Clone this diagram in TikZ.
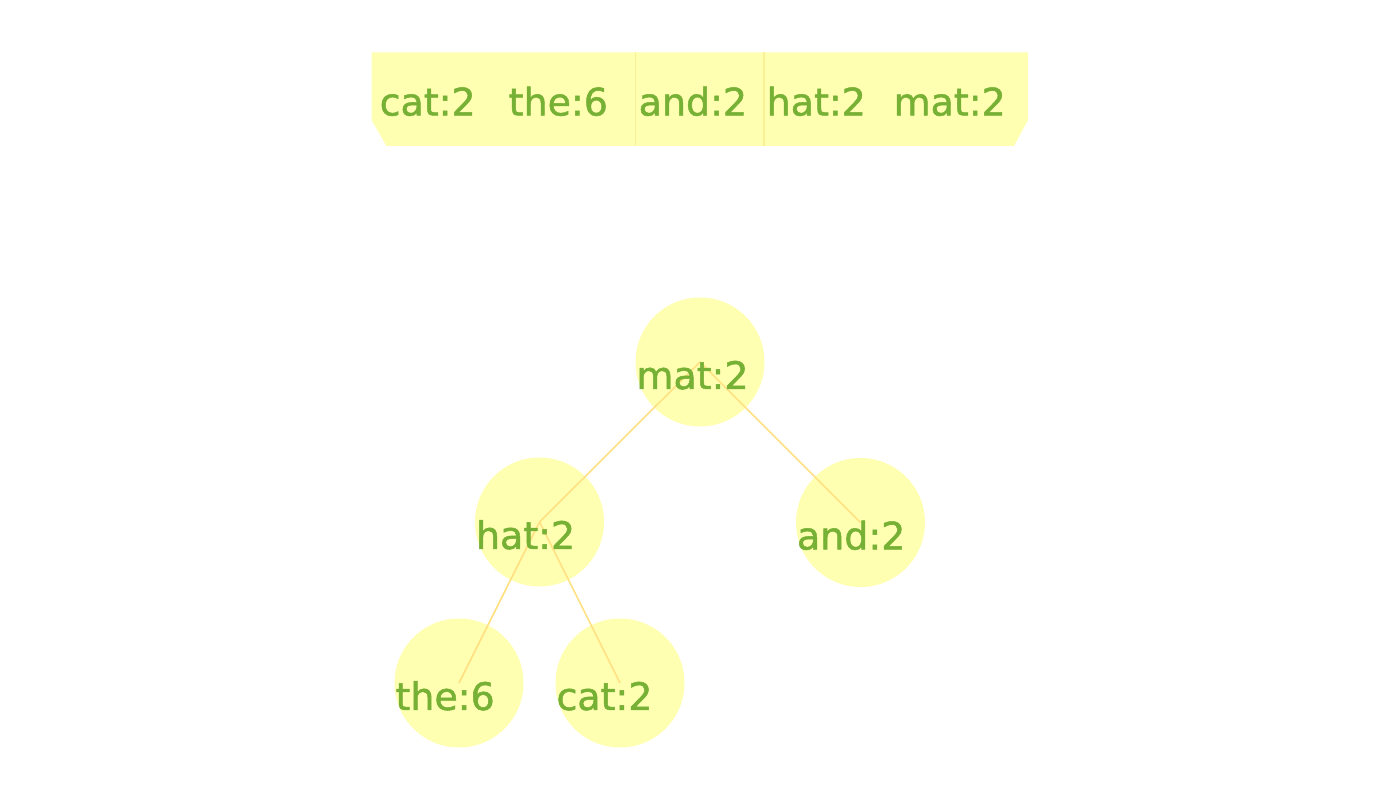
\documentclass[tikz,border=0pt]{standalone}
\usepackage{fontspec}
\setmainfont{DejaVu Sans}
\newfontfamily\wordfont{DejaVu Sans}[FakeBold=1.3]
\usepackage{tikz}
\usetikzlibrary{positioning}
\usepackage{xcolor}
\definecolor{wordgreen}{RGB}{118,176,52}
\definecolor{padyellow}{RGB}{255,255,178}
\definecolor{linkyellow}{RGB}{255,224,130}
\definecolor{cutyellow}{RGB}{250,240,150}

\begin{document}
\begin{tikzpicture}[
    bubble/.style={circle, fill=padyellow, minimum size=1.29cm, inner sep=0pt},
    word/.style={text=wordgreen, anchor=base west, inner sep=0pt,
                 font=\wordfont\fontsize{10.8}{13}\selectfont},
    link/.style={linkyellow, line width=0.45pt}
]
    \useasboundingbox (0,0) rectangle (14,8);

    % Frequency list (top bar)
    \fill[padyellow] (3.715,7.475) -- (10.28,7.475) -- (10.28,6.80)
        -- (10.14,6.54) -- (3.865,6.54) -- (3.715,6.80) -- cycle;
    \draw[cutyellow, line width=0.3pt] (6.355,7.475) -- (6.355,6.54);
    \draw[cutyellow, line width=0.3pt] (7.64,7.475) -- (7.64,6.54);

    \node[word] (lcat) at (3.79,6.845) {cat:2};
    \node[word] (lthe) at (5.08,6.845) {the:6};
    \node[word] (land) at (6.38,6.845) {and:2};
    \node[word] (lhat) at (7.66,6.845) {hat:2};
    \node[word] (lmat) at (8.93,6.845) {mat:2};

    % Tree nodes
    \node[bubble] (mat) at (7.00,4.38) {};
    \node[bubble] (hat) at (5.395,2.78) {};
    \node[bubble] (and) at (8.605,2.775) {};
    \node[bubble] (the) at (4.59,1.17) {};
    \node[bubble] (cat) at (6.20,1.17) {};

    % Edges
    \draw[link] (mat.center) -- (hat.center);
    \draw[link] (mat.center) -- (and.center);
    \draw[link] (hat.center) -- (the.center);
    \draw[link] (hat.center) -- (cat.center);

    % Labels
    \node[word] (tmat) at ([shift={(0.01,-0.27)}]mat.west) {mat:2};
    \node[word] (that) at ([shift={(0.01,-0.27)}]hat.west) {hat:2};
    \node[word] (tand) at ([shift={(0.01,-0.27)}]and.west) {and:2};
    \node[word] (tthe) at ([shift={(0.01,-0.27)}]the.west) {the:6};
    \node[word] (tcat) at ([shift={(0.01,-0.27)}]cat.west) {cat:2};
\end{tikzpicture}
\end{document}
